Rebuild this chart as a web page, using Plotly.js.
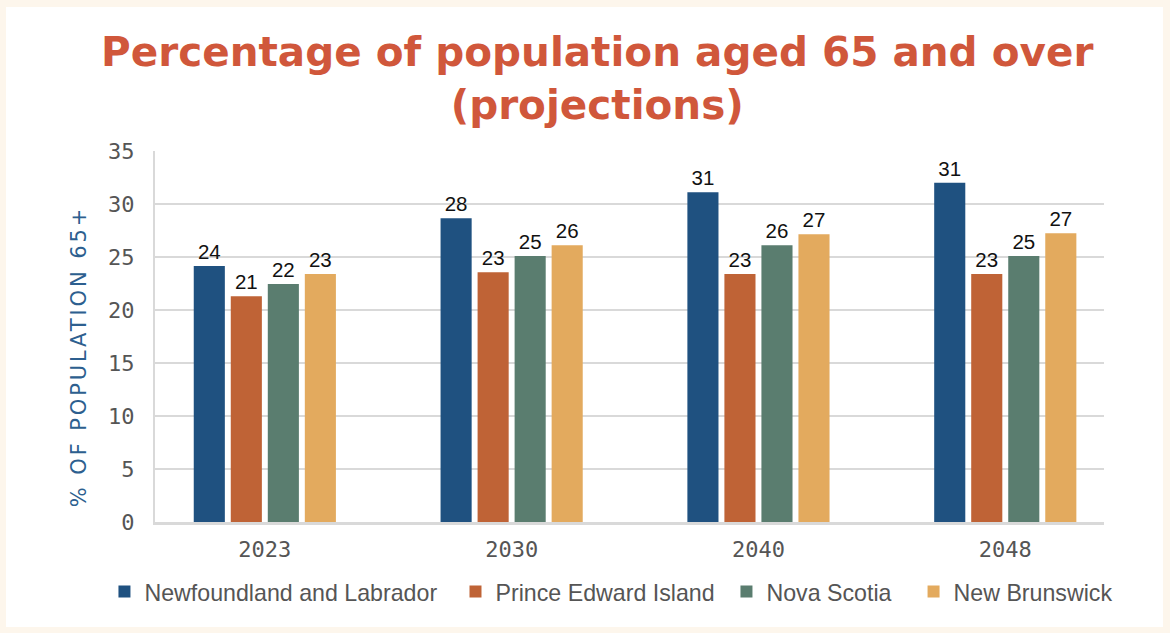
<!DOCTYPE html>
<html>
<head>
<meta charset="utf-8">
<script src="https://cdn.plot.ly/plotly-3.0.1.min.js"></script>
<style>
  html, body { margin: 0; padding: 0; background: #fdf6ec; width: 1170px; height: 633px; overflow: hidden; }
  #chart { position: absolute; left: 6px; top: 7px; width: 1157px; height: 620px; background: #ffffff; }
  #chart .ytitle { letter-spacing: 2.9px; }
</style>
</head>
<body>
<div id="chart"></div>
<script>
const years = ["2023", "2030", "2040", "2048"];
const seriesNames = ["Newfoundland and Labrador", "Prince Edward Island", "Nova Scotia", "New Brunswick"];
const nlValues  = [24.15, 28.65, 31.1, 32.0];
const peiValues = [21.3, 23.55, 23.4, 23.4];
const nsValues  = [22.45, 25.1, 26.1, 25.1];
const nbValues  = [23.4, 26.1, 27.15, 27.25];
const nlLabels  = ["24", "28", "31", "31"];
const peiLabels = ["21", "23", "23", "23"];
const nsLabels  = ["22", "25", "26", "25"];
const nbLabels  = ["23", "26", "27", "27"];
const colors = ["#1f5180", "#bf6336", "#5a7d6f", "#e3aa5e"];

const values = [nlValues, peiValues, nsValues, nbValues];
const labels = [nlLabels, peiLabels, nsLabels, nbLabels];
const legendIds = ["legend", "legend2", "legend3", "legend4"];
const legendX = [0.0851, 0.3885, 0.6227, 0.7844];

const traces = seriesNames.map((name, i) => ({
  type: "bar",
  name: name,
  x: years,
  y: values[i],
  text: labels[i],
  textposition: "outside",
  cliponaxis: false,
  textfont: { family: "Liberation Sans, Arial, sans-serif", size: 20.5, color: "#111111" },
  marker: { color: colors[i] },
  legend: legendIds[i],
  hoverinfo: "skip"
}));

const layout = {
  width: 1157,
  height: 620,
  paper_bgcolor: "#ffffff",
  plot_bgcolor: "#ffffff",
  margin: { l: 149, r: 59, t: 144, b: 105 },
  barmode: "group",
  bargap: 0.4,
  bargroupgap: 0.16,
  showlegend: true,
  title: {
    text: "Percentage of population aged 65 and over<br>(projections)",
    font: { family: "DejaVu Sans, sans-serif", size: 40.5, color: "#d0573b", weight: 700 },
    x: 0.511, xref: "container", xanchor: "center",
    y: 0.905, yref: "container", yanchor: "top"
  },
  xaxis: {
    type: "category",
    range: [-0.445, 3.4],
    showgrid: false,
    showline: true,
    linecolor: "#d9d9d9",
    linewidth: 3,
    ticks: "",
    ticklabelstandoff: 6,
    tickfont: { family: "DejaVu Sans Mono, monospace", size: 22, color: "#555555" },
    fixedrange: true
  },
  yaxis: {
    range: [0, 35],
    dtick: 5,
    showgrid: true,
    gridcolor: "#d9d9d9",
    gridwidth: 2,
    zeroline: false,
    showline: true,
    linecolor: "#d9d9d9",
    linewidth: 2,
    ticks: "",
    ticklabelstandoff: 14,
    tickfont: { family: "DejaVu Sans Mono, monospace", size: 22, color: "#555555" },
    title: {
      text: "% OF POPULATION 65+",
      font: { family: "DejaVu Sans, sans-serif", size: 21, color: "#2d5f8f" },
      standoff: 16
    },
    fixedrange: true
  }
};

legendIds.forEach((id, i) => {
  layout[id] = {
    orientation: "h",
    xref: "container",
    yref: "container",
    x: legendX[i], xanchor: "left",
    y: 0.0565, yanchor: "middle",
    font: { family: "Liberation Sans, Arial, sans-serif", size: 23.2, color: "#555555" },
    itemclick: false,
    itemdoubleclick: false
  };
});

Plotly.newPlot("chart", traces, layout, { displayModeBar: false, staticPlot: true }).then(gd => {
  gd.querySelectorAll(".legendbar").forEach(p => {
    p.setAttribute("d", "M8.5,8.5H-8.5V-8.5H8.5Z");
  });
  const yt = gd.querySelector(".ytitle");
  if (yt) yt.setAttribute("dx", "-20");
});
</script>
</body>
</html>
